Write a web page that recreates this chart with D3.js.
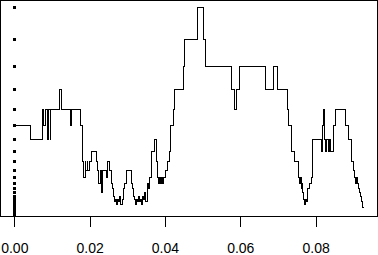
<!DOCTYPE html>
<html>
<head>
<meta charset="utf-8">
<script src="https://cdn.jsdelivr.net/npm/d3@7"></script>
<style>
  body { margin: 0; background: #fff; }
  svg { display: block; }
  .tick text { font-family: "Liberation Sans", Arial, sans-serif; font-size: 14px; fill: #000; }
</style>
</head>
<body>
<svg id="chart" width="378" height="255"></svg>
<script>
// levels that the walk can sit on (also drawn as the dot column at x = 0)
var levels = [1.000, 0.845, 0.714, 0.603, 0.510, 0.431, 0.364, 0.308, 0.260, 0.220,
  0.186, 0.157, 0.133, 0.112, 0.095, 0.080, 0.068, 0.057, 0.048, 0.041,
  0.035, 0.029, 0.025, 0.021, 0.018, 0.015, 0.013, 0.011, 0.009, 0.008,
  0.0065, 0.0055, 0.0046, 0.0039, 0.0033, 0.0028, 0.0023, 0.0019, 0.0015, 0.0011]

// step series: start of each step (x) and the level index it sits on
var stepX = [0, 0.00443, 0.00754, 0.00788, 0.00828, 0.00887, 0.00908, 0.00948, 0.00966, 0.01200,
  0.01266, 0.01492, 0.01518, 0.01757, 0.01816, 0.01850, 0.01877, 0.01903, 0.01930, 0.01956,
  0.01996, 0.02054, 0.02169, 0.02208, 0.02248, 0.02288, 0.02315, 0.02341, 0.02453, 0.02487,
  0.02540, 0.02585, 0.02620, 0.02646, 0.02673, 0.02699, 0.02726, 0.02753, 0.02779, 0.02806,
  0.02832, 0.02872, 0.02899, 0.02938, 0.02983, 0.03116, 0.03151, 0.03177, 0.03204, 0.03230,
  0.03257, 0.03283, 0.03310, 0.03337, 0.03363, 0.03390, 0.03416, 0.03443, 0.03469, 0.03496,
  0.03541, 0.03575, 0.03602, 0.03647, 0.03735, 0.03780, 0.03796, 0.03828, 0.03854, 0.03881,
  0.03907, 0.03934, 0.03955, 0.04013, 0.04072, 0.04114, 0.04151, 0.04220, 0.04266, 0.04486,
  0.04512, 0.04868, 0.05017, 0.05080, 0.05765, 0.05858, 0.05911, 0.05972, 0.06662, 0.06885,
  0.06981, 0.07246, 0.07283, 0.07352, 0.07443, 0.07549, 0.07575, 0.07597, 0.07623, 0.07650,
  0.07663, 0.07690, 0.07708, 0.07729, 0.07751, 0.07777, 0.07841, 0.07883, 0.07928, 0.08159,
  0.08175, 0.08202, 0.08247, 0.08273, 0.08300, 0.08340, 0.08380, 0.08406, 0.08467, 0.08539,
  0.08804, 0.08865, 0.08956, 0.09017, 0.09043, 0.09070, 0.09096, 0.09123, 0.09149, 0.09176,
  0.09203, 0.09229, 0.09256, 0.09274]
var stepK = [5, 6, 4, 5, 4, 6, 4, 6, 4, 3,
  4, 5, 4, 5, 8, 10, 8, 9, 8, 9,
  8, 7, 8, 9, 11, 9, 13, 9, 10, 8,
  9, 11, 12, 14, 16, 15, 17, 15, 16, 14,
  17, 15, 12, 11, 9, 11, 12, 14, 15, 17,
  15, 16, 14, 16, 15, 17, 14, 15, 13, 16,
  11, 12, 10, 7, 6, 8, 10, 11, 10, 11,
  10, 11, 10, 9, 8, 7, 5, 4, 3, 2,
  1, 0, 1, 2, 3, 4, 3, 2, 3, 2,
  3, 4, 5, 7, 8, 10, 11, 10, 12, 11,
  13, 15, 17, 15, 16, 12, 11, 10, 6, 7,
  5, 4, 6, 7, 6, 7, 6, 7, 5, 4,
  5, 6, 8, 9, 10, 11, 10, 11, 12, 13,
  14, 16, 19, 19]

var xTicks = [0, 0.02, 0.04, 0.06, 0.08]

var svg = d3.select("#chart")
var W = 378, boxW = 377, boxH = 216

var x = d3.scaleLinear().domain([-0.0038, 0.0963]).range([0, boxW])
var y = d3.scaleLinear().domain([0, 1]).range([boxH, 7])

var walk = stepX.map(function(d, i) { return [d, levels[stepK[i]]] })

var line = d3.line()
  .x(function(d) { return x(d[0]) })
  .y(function(d) { return y(d[1]) })
  .curve(d3.curveStepAfter)

svg.append("path")
  .datum(walk)
  .attr("d", line)
  .attr("fill", "none")
  .attr("stroke", "#000")
  .attr("stroke-width", 1)
  .attr("shape-rendering", "crispEdges")

// dot column at x = 0
svg.append("g").selectAll("rect")
  .data(levels)
  .enter().append("rect")
  .attr("x", x(0) - 1.5)
  .attr("y", function(d) { return y(d) - 1.5 })
  .attr("width", 3)
  .attr("height", 3)
  .attr("fill", "#000")
  .attr("shape-rendering", "crispEdges")

// box
svg.append("rect")
  .attr("x", 0.5).attr("y", 0.5)
  .attr("width", boxW - 0.5).attr("height", boxH)
  .attr("fill", "none")
  .attr("stroke", "#000")
  .attr("shape-rendering", "crispEdges")

var ax = svg.append("g")
  .attr("transform", "translate(0," + (boxH + 0.5) + ")")
  .call(d3.axisBottom(x).tickValues(xTicks).tickFormat(d3.format(".2f")).tickSize(10).tickPadding(17))
ax.select(".domain").remove()
ax.selectAll("line").attr("stroke", "#000").attr("shape-rendering", "crispEdges")
</script>
</body>
</html>
